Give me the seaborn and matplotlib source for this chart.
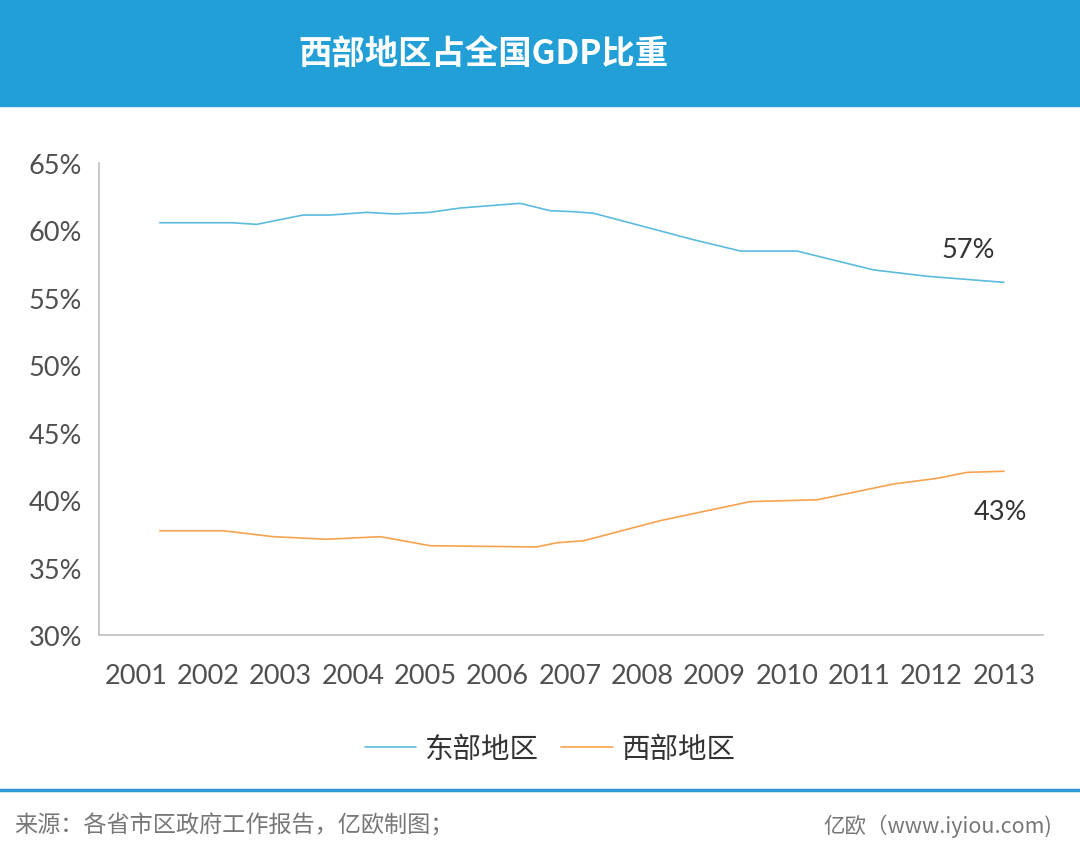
import pandas as pd
import matplotlib.pyplot as plt
import seaborn as sns
from matplotlib.patches import Rectangle
from matplotlib.lines import Line2D

# Data (x as fractional year positions, y in %)
east_x = [2001.33, 2002.32, 2002.67, 2003.31, 2003.68, 2004.19, 2004.58, 2005.06,
          2005.48, 2006.31, 2006.73, 2007.05, 2007.33, 2008.71, 2009.36, 2010.14,
          2011.20, 2011.94, 2013.0]
east_y = [60.57, 60.57, 60.45, 61.14, 61.14, 61.34, 61.22, 61.34,
          61.66, 62.01, 61.46, 61.39, 61.27, 59.31, 58.47, 58.47,
          57.07, 56.60, 56.15]
west_x = [2001.33, 2002.21, 2002.90, 2003.64, 2004.38, 2005.07, 2006.54, 2006.82,
          2007.19, 2008.25, 2009.49, 2010.42, 2011.48, 2012.08, 2012.49, 2013.0]
west_y = [37.73, 37.73, 37.29, 37.10, 37.29, 36.62, 36.53, 36.84,
          36.99, 38.48, 39.89, 40.03, 41.20, 41.62, 42.06, 42.14]
years = list(range(2001, 2014))
y_ticks = [30, 35, 40, 45, 50, 55, 60, 65]
series_names = ['东部地区', '西部地区']
end_labels = ['57%', '43%']

colors = {'东部地区': '#5bbbdf', '西部地区': '#f6a24e'}

df = pd.concat([
    pd.DataFrame({'year': east_x, 'share': east_y, 'region': series_names[0]}),
    pd.DataFrame({'year': west_x, 'share': west_y, 'region': series_names[1]}),
])

sns.set_theme(style='white')
plt.rcParams['font.family'] = ['Noto Sans CJK SC', 'DejaVu Sans']
num_font = ['Lato', 'DejaVu Sans']

fig = plt.figure(figsize=(10.8, 8.62), dpi=100)
ax = fig.add_axes([99 / 1080, 1 - 636 / 862, (1043 - 99) / 1080, (636 - 164) / 862])

sns.lineplot(data=df, x='year', y='share', hue='region', palette=colors,
             linewidth=1.2, legend=False, ax=ax)

ax.set_xlim(2000.49, 2013.54)
ax.set_ylim(30, 65)
ax.set_xticks(years)
ax.set_xticklabels([str(y) for y in years])
ax.set_yticks(y_ticks)
ax.set_yticklabels([f'{v}%' for v in y_ticks])
ax.tick_params(axis='both', length=0, labelsize=19.5, colors='#505050', pad=12)
ax.tick_params(axis='x', pad=20)
for lab in ax.get_xticklabels() + ax.get_yticklabels():
    lab.set_family(num_font)
ax.set_xlabel('')
ax.set_ylabel('')
for s in ['top', 'right']:
    ax.spines[s].set_visible(False)
for s in ['left', 'bottom']:
    ax.spines[s].set_color('#c0c0c0')
    ax.spines[s].set_linewidth(1.2)

# end-of-line value labels
ax.text(east_x[-1] - 0.5, east_y[-1] + 2.4, end_labels[0], fontsize=19.5, family=num_font,
        color='#333333', ha='center', va='center')
ax.text(east_x[-1] - 0.05, west_y[-1] - 3.0, end_labels[1], fontsize=19.5, family=num_font,
        color='#333333', ha='center', va='center')

# header band
fig.patches.append(Rectangle((0, 1 - 107 / 862), 1, 107 / 862, transform=fig.transFigure,
                             color='#219fd6', zorder=0))
fig.text(298 / 1080, 1 - 55 / 862, '西部地区占全国GDP比重', fontsize=24, fontweight='bold',
         color='white', ha='left', va='center')

# legend
handles = [Line2D([0], [0], color=colors[n], lw=1.2) for n in series_names]
fig.legend(handles, series_names, loc='center', bbox_to_anchor=(550 / 1080, 1 - 750 / 862),
           ncol=2, frameon=False, fontsize=20.5, handlelength=1.8, columnspacing=0.8,
           handletextpad=0.3, labelcolor='#333333')

# footer
fig.add_artist(Line2D([0, 1], [1 - 791 / 862] * 2, transform=fig.transFigure,
                      color='#2e9ad3', lw=2.5))
fig.text(14 / 1080, 1 - 826 / 862, '来源：各省市区政府工作报告，亿欧制图；', fontsize=16.7,
         color='#777777', ha='left', va='center')
fig.text(1052 / 1080, 1 - 826 / 862, '亿欧（www.iyiou.com)', fontsize=15.5,
         color='#777777', ha='right', va='center')

fig.savefig('out.png', dpi=100)
